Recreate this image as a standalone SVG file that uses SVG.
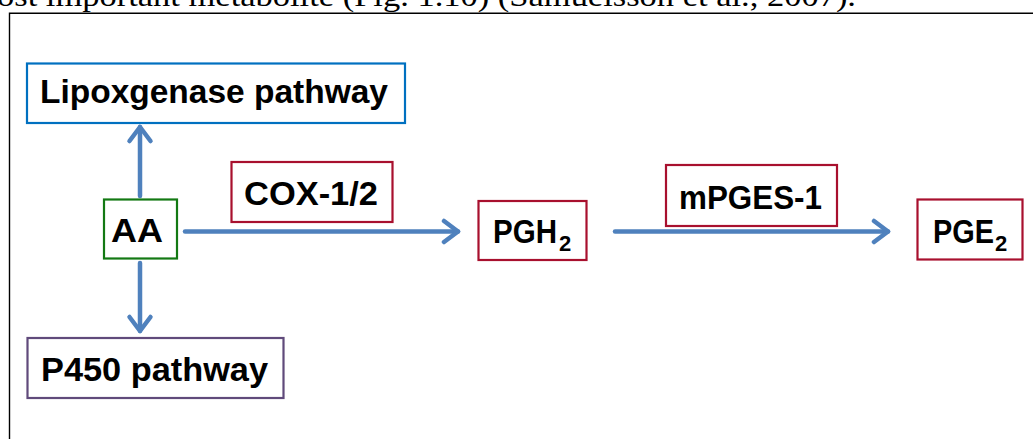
<svg xmlns="http://www.w3.org/2000/svg" width="1033" height="439" viewBox="0 0 1033 439">
<defs>
<style>
.box{fill:#fff;stroke-width:2.2}
.lbl{font-family:"Liberation Sans",Arial,sans-serif;font-weight:bold;font-size:34px;fill:#000}
.sub{font-family:"Liberation Sans",Arial,sans-serif;font-weight:bold;font-size:22px;fill:#000}
.conn{stroke:#4F81BD;stroke-width:4.5;fill:none;stroke-linecap:round;stroke-linejoin:round}
</style>
<marker id="arr" markerUnits="userSpaceOnUse" viewBox="-20 -14 24 28" refX="0" refY="0" markerWidth="24" markerHeight="28" orient="auto">
<path d="M-14,-10.5 L0,0 L-14,10.5" fill="none" stroke="#4F81BD" stroke-width="4.5" stroke-linecap="round" stroke-linejoin="round"/>
</marker>
</defs>
<rect width="1033" height="439" fill="#fff"/>
<text x="-3" y="6" font-family="'Liberation Serif','DejaVu Serif',serif" font-size="29" textLength="859" lengthAdjust="spacingAndGlyphs" fill="#000">ost important metabolite (Fig. 1.10) (Samuelsson et al., 2007).</text>
<path d="M9.5,439 V13.3 H1033" fill="none" stroke="#000" stroke-width="1.4"/>
<g id="connectors">
<path class="conn" d="M140,196 V127" marker-end="url(#arr)"/>
<path class="conn" d="M140,263 V331" marker-end="url(#arr)"/>
<path class="conn" d="M185,231.5 H458" marker-end="url(#arr)"/>
<path class="conn" d="M615,231.5 H888" marker-end="url(#arr)"/>
</g>
<g id="lipoxgenase">
<rect class="box" x="27" y="63.5" width="378" height="59.5" stroke="#0070C0"/>
<text class="lbl" x="40" y="103" textLength="348" lengthAdjust="spacingAndGlyphs">Lipoxgenase pathway</text>
</g>
<g id="aa">
<rect class="box" x="104" y="199.5" width="73" height="59" stroke="#137913"/>
<text class="lbl" x="111" y="242" textLength="52" lengthAdjust="spacingAndGlyphs">AA</text>
</g>
<g id="p450">
<rect class="box" x="27.5" y="338" width="256" height="60" stroke="#604A7B"/>
<text class="lbl" x="41" y="381" textLength="227" lengthAdjust="spacingAndGlyphs">P450 pathway</text>
</g>
<g id="cox">
<rect class="box" x="231.5" y="162" width="161" height="60" stroke="#A8102E"/>
<text class="lbl" x="244" y="205" textLength="134" lengthAdjust="spacingAndGlyphs">COX-1/2</text>
</g>
<g id="pgh2">
<rect class="box" x="478.5" y="201" width="108" height="59" stroke="#A8102E"/>
<text class="lbl" x="493" y="243" textLength="64" lengthAdjust="spacingAndGlyphs">PGH</text>
<text class="sub" x="559" y="251">2</text>
</g>
<g id="mpges">
<rect class="box" x="666" y="165" width="171" height="61" stroke="#A8102E"/>
<text class="lbl" x="679" y="209" textLength="143" lengthAdjust="spacingAndGlyphs">mPGES-1</text>
</g>
<g id="pge2">
<rect class="box" x="917.5" y="199.5" width="105" height="60" stroke="#A8102E"/>
<text class="lbl" x="933" y="243" textLength="61" lengthAdjust="spacingAndGlyphs">PGE</text>
<text class="sub" x="995" y="251">2</text>
</g>
</svg>
